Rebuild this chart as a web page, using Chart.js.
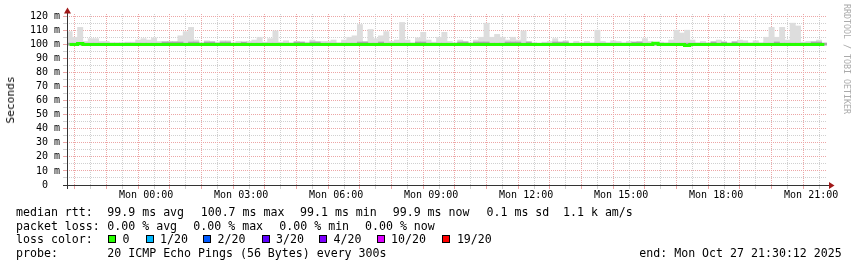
<!DOCTYPE html>
<html><head><meta charset="utf-8">
<script src="https://cdn.jsdelivr.net/npm/chart.js@4.4.0/dist/chart.umd.min.js"></script>
<style>
html,body{margin:0;padding:0;background:#fff;}
#wrap{position:relative;width:857px;height:267px;overflow:hidden;background:#fff;}
#c{position:absolute;left:0;top:0;}
.t{position:absolute;font-family:'DejaVu Sans Mono',monospace;font-size:11.6px;line-height:14px;white-space:pre;color:#000;}
.box{position:absolute;width:6px;height:6px;border:1px solid #000;}
#ylab{position:absolute;left:11px;top:99.5px;font-family:'DejaVu Sans Mono',monospace;font-size:11.2px;line-height:14px;white-space:pre;transform:translate(-50%,-50%) rotate(-90deg);}
#credit{position:absolute;left:842px;top:4px;font-family:'DejaVu Sans Mono',monospace;font-size:8.3px;line-height:10px;white-space:pre;writing-mode:vertical-rl;color:#aaaaaa;}
</style></head><body>
<div id="wrap"><canvas id="c" width="857" height="267"></canvas>
<div id="ylab">Seconds</div>
<div id="credit">RRDTOOL / TOBI OETIKER</div>
<div id="legend"></div></div>
<script>
// ---- data ----
const stepMinutes = 10; // one bin per 10 minutes, from Sun 21:30 to Mon 21:30
const xTickLabels = ['Mon 00:00','Mon 03:00','Mon 06:00','Mon 09:00','Mon 12:00','Mon 15:00','Mon 18:00','Mon 21:00'];
const xTickMinutes = [150,330,510,690,870,1050,1230,1410];
const yTickValues = [0,10,20,30,40,50,60,70,80,90,100,110,120];
const yTickLabels = ['0  ','10 m','20 m','30 m','40 m','50 m','60 m','70 m','80 m','90 m','100 m','110 m','120 m'];

const medianRtt = [
99.9,99.9,100.6,99.9,99.9,99.9,99.9,99.9,99.9,99.9,99.9,99.9,99.9,99.9,99.9,99.9,99.9,99.9,99.9,99.9,99.9,99.9,99.9,99.9,
99.9,99.9,99.9,99.9,99.9,99.9,99.9,99.9,99.9,99.9,99.9,99.9,99.9,99.9,99.9,99.9,99.9,99.9,99.9,99.9,99.9,99.9,99.9,99.9,
99.9,99.9,99.9,99.9,99.9,99.9,99.9,99.9,99.9,99.9,99.9,99.9,99.9,99.9,99.9,99.9,99.9,99.9,99.9,99.9,99.9,99.9,99.9,99.9,
99.9,99.9,99.9,99.9,99.9,99.9,99.9,99.9,99.9,99.9,99.9,99.9,99.9,99.9,99.9,99.9,99.9,99.9,99.9,99.9,99.9,99.9,99.9,99.9,
99.9,99.9,99.9,99.9,99.9,99.9,99.9,99.9,99.9,99.9,99.9,99.9,99.9,99.9,99.9,100.7,99.9,99.9,99.9,99.9,99.9,99.1,99.9,99.9,
99.9,99.9,99.9,99.9,99.9,99.9,99.9,99.9,99.9,99.9,99.9,99.9,99.9,99.9,99.9,99.9,99.9,99.9,99.9,99.9,99.9,99.9,99.9,99.9];

const smokeLow = [
99.4,99.4,99.4,99.4,99.4,99.4,99.4,99.4,99.4,99.4,99.4,99.4,99.4,99.4,99.4,99.4,99.4,99.4,99.4,99.4,99.4,99.4,99.4,99.4,
99.4,99.4,99.4,99.4,99.4,99.4,99.4,99.4,99.4,99.4,99.4,99.4,99.4,99.4,99.4,99.4,99.4,99.4,99.4,99.4,99.4,99.4,99.4,99.4,
99.4,99.4,99.4,99.4,99.4,99.4,99.4,99.4,99.4,99.4,99.4,99.4,99.4,99.4,99.4,99.4,99.4,99.4,99.4,99.4,99.4,99.4,99.4,99.4,
99.4,99.4,99.4,99.4,99.4,99.4,99.4,99.4,99.4,99.4,99.4,99.4,99.4,99.4,99.4,99.4,99.4,99.4,99.4,99.4,99.4,99.4,99.4,99.4,
99.4,99.4,99.4,99.4,99.4,99.4,99.4,99.4,99.4,99.4,99.4,99.4,99.4,99.4,99.4,99.4,99.4,99.4,99.4,99.4,99.4,99.4,99.4,99.4,
99.4,99.4,99.4,99.4,99.4,99.4,99.4,99.4,99.4,99.4,99.4,99.4,99.4,99.4,99.4,99.4,99.4,99.4,99.4,99.4,99.4,99.4,99.4,99.4];

const smokeInner = [
100.8,100.8,100.8,100.8,100.8,100.8,100.8,100.8,100.8,100.8,100.8,100.8,100.8,100.8,100.8,100.8,100.8,100.8,101.6,101.6,101.6,101.6,100.8,101.6,
101.6,100.8,101.6,101.6,100.8,101.6,101.6,100.8,100.8,101.6,100.8,100.8,100.8,100.8,100.8,100.8,100.8,100.8,100.8,101.6,101.6,100.8,101.6,101.6,
100.8,100.8,100.8,100.8,100.8,100.8,100.8,101.6,101.6,100.8,100.8,101.6,100.8,100.8,100.8,100.8,100.8,100.8,101.6,101.6,100.8,100.8,100.8,100.8,
100.8,100.8,101.6,101.6,100.8,101.6,101.6,101.6,100.8,100.8,100.8,101.6,101.6,101.6,100.8,101.6,100.8,100.8,100.8,100.8,101.6,101.6,101.6,100.8,
100.8,100.8,100.8,100.8,100.8,100.8,100.8,100.8,100.8,100.8,100.8,101.6,101.6,100.8,100.8,100.8,100.8,100.8,100.8,100.8,100.8,100.8,100.8,100.8,
100.8,100.8,101.6,100.8,101.6,100.8,101.6,100.8,100.8,100.8,100.8,100.8,100.8,100.8,101.6,100.8,100.8,100.8,100.8,100.8,100.8,101.6,101.6,100.8];

const smokeHigh = [
109,105,112,102,104,104,102,102,101,101,101,101.5,101.5,103,104,103,104.5,102,102,102,102,106,109,112,
103,101,102.5,102,101.5,102.5,102.5,101,102,101,102,103,105,101.5,104,109.5,101.5,102.5,101,102,101.5,101.5,103,102,102,
102,103,101,103,105,106,114,102,110.5,104,106,109,102,103,115.5,103,101,104.5,108.5,103,101.5,105,108.5,102,101,
103,102,101,103,105,115,105,107,105,103,105,103,109.5,102,101,100.5,101.5,102,104,101,102.5,100.5,102,101,
102,101,110,102,101,102.5,102,101,102,101,102,104,102,101,101.5,101,103,110,108,110,103,101,102,101,102,
103,101.5,101,102,103,102.5,101,102.5,101,105,112,105,112,103,115,113,101.5,102,102,103,101];

const lossLevels = ['0','1/20','2/20','3/20','4/20','10/20','19/20'];
const lossColors = ['#26ff00','#00b8ff','#0059ff','#5e00ff','#7e00ff','#dd00ff','#ff0000'];
const rttStats = ['99.9 ms avg','100.7 ms max','99.1 ms min','99.9 ms now','0.1 ms sd','1.1 k am/s'];
const lossStats = ['0.00 % avg','0.00 % max','0.00 % min','0.00 % now'];
const probeText = '20 ICMP Echo Pings (56 Bytes) every 300s';
const endText = 'end: Mon Oct 27 21:30:12 2025';

// ---- layout (positions only) ----
const rttX = [107.3, 200.7, 300, 392.7, 486.5, 563];
const lossX = [107.3, 193.3, 279.3, 365];
const boxX = [108, 145.5, 203, 261.5, 319, 376.5, 442.3];
const lineTop = [205, 218.5, 232.3, 246];

const legend = document.getElementById('legend');
function addText(txt, x, y){ const d=document.createElement('div'); d.className='t'; d.textContent=txt; d.style.left=x+'px'; d.style.top=y+'px'; legend.appendChild(d); }
addText('median rtt:', 16, lineTop[0]);
rttStats.forEach((s,i)=>addText(s, rttX[i], lineTop[0]));
addText('packet loss:', 16, lineTop[1]);
lossStats.forEach((s,i)=>addText(s, lossX[i], lineTop[1]));
addText('loss color:', 16, lineTop[2]);
lossLevels.forEach((s,i)=>{
  const b=document.createElement('div'); b.className='box'; b.style.left=boxX[i]+'px'; b.style.top='235px'; b.style.background=lossColors[i]; legend.appendChild(b);
  addText(s, boxX[i]+14.6, lineTop[2]);
});
addText('probe:', 16, lineTop[3]);
addText(probeText, 107.3, lineTop[3]);
addText(endText, 639.3, lineTop[3]);

// ---- chart ----
const xOf = i => i*stepMinutes + stepMinutes/2;
const barPts = (lo, hi) => hi.map((h,i)=>({x:xOf(i), y:[lo[i], h]}));
const MAJOR = '#eca6a6', MINOR = '#d0d0d0';
const monoFont = {family:'DejaVu Sans Mono', size:10};

const axesPlugin = {
  id:'rrdAxes',
  afterDraw(chart){
    const c = chart.ctx, a = chart.chartArea;
    c.save();
    c.strokeStyle = '#333'; c.lineWidth = 1;
    c.beginPath();
    c.moveTo(a.left - 4, a.bottom + 0.5); c.lineTo(a.right + 2, a.bottom + 0.5);
    c.moveTo(a.left + 0.5, a.bottom + 4); c.lineTo(a.left + 0.5, a.top - 1);
    c.stroke();
    c.fillStyle = '#a01818';
    c.beginPath();
    c.moveTo(a.left - 3, a.top - 0.5); c.lineTo(a.left + 4, a.top - 0.5); c.lineTo(a.left + 0.5, a.top - 6.5); c.closePath(); c.fill();
    c.beginPath();
    c.moveTo(a.right + 2, a.bottom - 3); c.lineTo(a.right + 2, a.bottom + 4); c.lineTo(a.right + 7.5, a.bottom + 0.5); c.closePath(); c.fill();
    c.restore();
  }
};

new Chart(document.getElementById('c'), {
  type:'bar',
  data:{datasets:[
    {type:'line', label:'median', data: medianRtt.map((v,i)=>({x:xOf(i), y:v})), borderColor:'#26ff00', borderWidth:3, pointRadius:0, stepped:'middle', order:0},
    {type:'bar', label:'inner', data: barPts(smokeLow, smokeInner), backgroundColor:'#a8a8a8', barPercentage:1, categoryPercentage:1, grouped:false, order:1},
    {type:'bar', label:'smoke', data: barPts(smokeLow, smokeHigh), backgroundColor:'#dddddd', barPercentage:1, categoryPercentage:1, grouped:false, order:2}
  ]},
  options:{
    responsive:false, animation:false, devicePixelRatio:1,
    layout:{padding:{left:0, top:14, right:30, bottom:0}},
    plugins:{legend:{display:false}, tooltip:{enabled:false}},
    scales:{
      x:{type:'linear', min:0, max:1440, offset:false,
        afterBuildTicks: s => { const t=[]; for(let v=0; v<=1440; v+=30) t.push({value:v}); s.ticks=t; },
        afterFit: s => { s.height = 82; },
        grid:{ color: ctx => ((ctx.tick && (ctx.tick.value - 30) % 60 === 0) ? MAJOR : MINOR), tickLength:4, tickBorderDash:[] },
        border:{display:false, dash:[1,1]},
        ticks:{ autoSkip:false, maxRotation:0, minRotation:0, padding:0, color:'#000', font:monoFont,
          callback: v => { const k = xTickMinutes.indexOf(v); return k >= 0 ? xTickLabels[k] : ''; } }
      },
      y:{type:'linear', min:0, max:121.5,
        afterBuildTicks: s => { const t=[]; for(let v=0; v<=120; v+=5) t.push({value:v}); s.ticks=t; },
        afterFit: s => { s.width = 67; },
        grid:{ color: ctx => ((ctx.tick && ctx.tick.value % 10 === 0) ? MAJOR : MINOR), tickLength:4, tickBorderDash:[] },
        border:{display:false, dash:[1,1]},
        ticks:{ autoSkip:false, padding:3, color:'#000', font:monoFont,
          callback: v => { const k = yTickValues.indexOf(v); return k >= 0 ? yTickLabels[k] : ''; } }
      }
    }
  },
  plugins:[axesPlugin]
});
</script>
</body></html>
